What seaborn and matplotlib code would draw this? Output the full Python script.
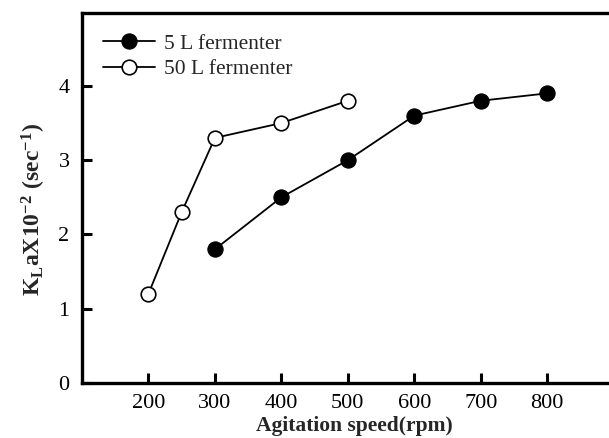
import matplotlib
matplotlib.use("Agg")
import matplotlib.pyplot as plt
import seaborn as sns
import pandas as pd

speed_5L = [300, 400, 500, 600, 700, 800]
kla_5L = [1.8, 2.5, 3.0, 3.6, 3.8, 3.9]
speed_50L = [200, 250, 300, 400, 500]
kla_50L = [1.2, 2.3, 3.3, 3.5, 3.8]
x_ticks = [200, 300, 400, 500, 600, 700, 800]
y_ticks = [0, 1, 2, 3, 4]

sns.set_style("white")
plt.rcParams['font.family'] = ['Liberation Serif', 'DejaVu Serif']
plt.rcParams['mathtext.fontset'] = 'custom'
plt.rcParams['mathtext.rm'] = 'Liberation Serif:bold'
plt.rcParams['mathtext.it'] = 'Liberation Serif:bold'
plt.rcParams['mathtext.bf'] = 'Liberation Serif:bold'

df5 = pd.DataFrame({"speed": speed_5L, "kla": kla_5L})
df50 = pd.DataFrame({"speed": speed_50L, "kla": kla_50L})

fig = plt.figure(figsize=(6.09, 4.38), dpi=100)
ax = fig.add_axes([0.1346, 0.1256, 0.8654, 0.8444])

sns.lineplot(data=df5, x="speed", y="kla", ax=ax, color="black", lw=1.3,
             marker="o", markersize=11, markerfacecolor="black",
             markeredgecolor="black", label="5 L fermenter")
sns.lineplot(data=df50, x="speed", y="kla", ax=ax, color="black", lw=1.3,
             marker="o", markersize=10.5, markerfacecolor="white",
             markeredgecolor="black", markeredgewidth=1.2, label="50 L fermenter")

ax.set_xlim(100, 893)
ax.set_ylim(0, 4.98)
ax.set_xticks(x_ticks)
ax.set_yticks(y_ticks)
ax.tick_params(direction="in", length=7, width=2.2, labelsize=16, color="black",
               labelcolor="black", bottom=True, left=True, top=False, right=False)
ax.tick_params(axis="x", pad=8)
ax.tick_params(axis="y", pad=9)
for s in ["left", "top", "bottom"]:
    ax.spines[s].set_linewidth(2.4)
    ax.spines[s].set_color("black")
ax.spines["right"].set_visible(False)

ax.set_xlabel("Agitation speed(rpm)", fontsize=15.5, fontweight="bold")
ax.xaxis.set_label_coords(0.516, -0.088)
ax.set_ylabel(r"$\mathrm{K_L aX10^{-2}\ (sec^{-1})}$", fontsize=17)
ax.yaxis.set_label_coords(-0.065, 0.47)

leg = ax.legend(loc="upper left", frameon=False, fontsize=15.5, handlelength=2.4,
                bbox_to_anchor=(0.012, 0.985), borderaxespad=0.4,
                labelspacing=0.25, handletextpad=0.4, borderpad=0.3)

fig.savefig("out.png", dpi=100)
